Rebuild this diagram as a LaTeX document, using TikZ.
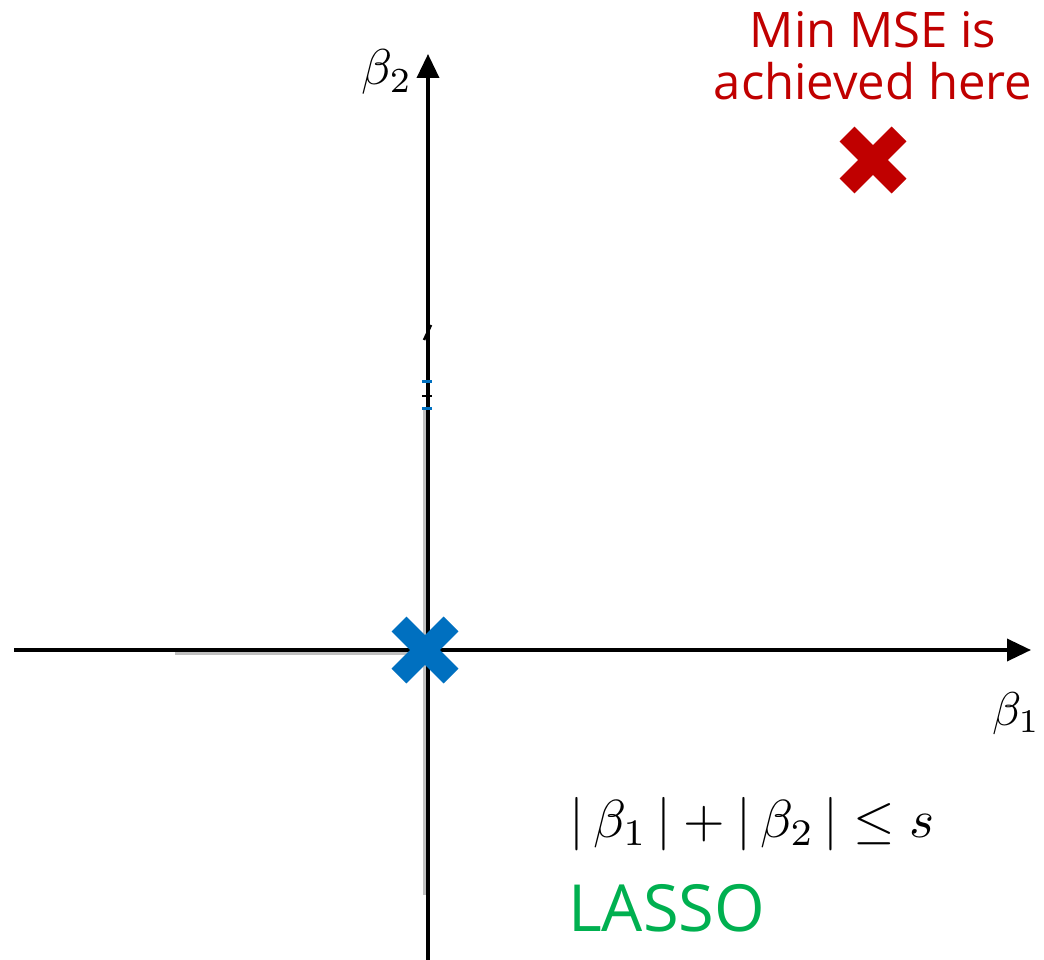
\documentclass[tikz,border=0pt]{standalone}
\usepackage{fontspec}
\setsansfont{Open Sans}
\usetikzlibrary{arrows.meta,calc}
\definecolor{msered}{HTML}{C00000}
\definecolor{lassogreen}{HTML}{00B050}
\definecolor{crossblue}{HTML}{0070C0}
\tikzset{
  axis/.style={line width=3.6pt, -{Triangle[length=24pt,width=22pt]}},
  shadow/.style={line width=3pt, color=black!25},
  xmark/.style={line width=21pt},
  redtext/.style={font=\sffamily\fontsize{49}{52}\selectfont, text=msered, align=center},
  mathlbl/.style={inner sep=0pt},
}
\begin{document}
\begin{tikzpicture}[x=1pt,y=-1pt]
\useasboundingbox (0,0) rectangle (1044,960);
% faint shadow lines
\draw[shadow] (175,653.5) -- (428,653.5);
\draw[shadow] (424,410) -- (424,895);
% axes
\coordinate (xs) at (14,650);
\coordinate (xe) at (1031,650);
\coordinate (ys) at (428,960);
\coordinate (ye) at (428,54);
\draw[axis] (xs) -- (xe);
\draw[axis] (ys) -- (ye);
% small artifacts on the vertical axis
\draw[line width=2.5pt] (424,340) -- (431,325);
\draw[crossblue, line width=3pt] (422,381.5) -- (432,381.5);
\draw[crossblue, line width=3pt] (422,408.5) -- (432,408.5);
\draw[line width=2.5pt] (422,396) -- (432,396);
% axis labels
\node[mathlbl] (b2) at (387,72) {\resizebox{51pt}{!}{$\beta_2$}};
\node[mathlbl] (b1) at (1016,714) {\resizebox{48pt}{!}{$\beta_1$}};
% crosses
\coordinate (origin) at (425,650);
\draw[crossblue, xmark] ($(origin)+(-26,-26)$) -- ($(origin)+(26,26)$);
\draw[crossblue, xmark] ($(origin)+(-26,26)$) -- ($(origin)+(26,-26)$);
\coordinate (minmse) at (873,160);
\draw[msered, xmark] ($(minmse)+(-26,-26)$) -- ($(minmse)+(26,26)$);
\draw[msered, xmark] ($(minmse)+(-26,26)$) -- ($(minmse)+(26,-26)$);
% texts
\node[redtext, anchor=base] (mse) at (873,48) {Min MSE is};
\node[redtext, anchor=base] (mse2) at (873,100) {achieved here};
\node[mathlbl] (constraint) at (752,824) {\resizebox{365pt}{!}{$|\,\beta_1\,| + |\,\beta_2\,| \leq s$}};
\node[font=\sffamily\fontsize{65}{70}\selectfont, text=lassogreen, anchor=base west, inner sep=0pt] (lasso) at (568,931) {LASSO};
\end{tikzpicture}
\end{document}
